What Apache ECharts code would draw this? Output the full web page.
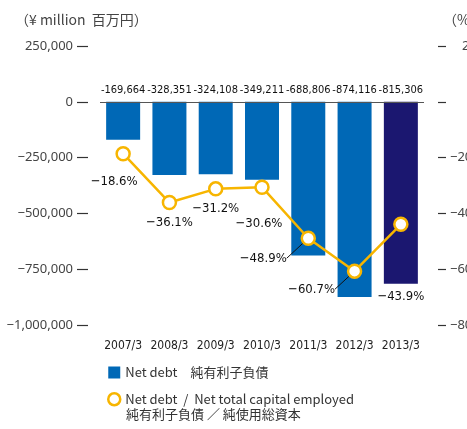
<!DOCTYPE html>
<html>
<head>
<meta charset="utf-8">
<script src="https://cdn.jsdelivr.net/npm/echarts@6/dist/echarts.min.js"></script>
<style>
  html, body { margin: 0; padding: 0; background: #fff; }
  #main { width: 467px; height: 429px; }
</style>
</head>
<body>
<div id="main"></div>
<script>
// data
var years = ['2007/3', '2008/3', '2009/3', '2010/3', '2011/3', '2012/3', '2013/3'];
var netDebt = [-169664, -328351, -324108, -349211, -688806, -874116, -815306];
var debtRatio = [-18.6, -36.1, -31.2, -30.6, -48.9, -60.7, -43.9];
var leftTicks = [-1000000, 250000, 250000]; // min, max, interval
var rightTicks = [-80, 20, 20];

var FONT = "'DejaVu Sans Condensed', 'Noto Sans CJK JP', sans-serif";
var FONT_JP = "'Noto Sans CJK JP', sans-serif";
var FONT_AX = "'Noto Sans', 'DejaVu Sans', sans-serif";
var BLUE = '#0068b6';
var NAVY = '#1b1770';
var YELLOW = '#f7b500';

// label offsets for the ratio points (dx, dy from the point), leader line on some
var ratioLabelShift = [[-9, 28], [0, 20], [0, 20], [-3, 36], [-45, 20], [-43, 18], [0, 72]];
var ratioLeader = [false, false, false, false, true, true, false];

function fmt(n) {
  return String(n).replace(/\B(?=(\d{3})+(?!\d))/g, ',');
}
function minus(s) {
  return s.replace('-', '\u2212');
}

var myChart = echarts.init(document.getElementById('main'));

var option = {
  animation: false,
  textStyle: { fontFamily: FONT },
  title: [
    {
      text: '（¥ million  百万円）',
      left: 10, top: 8,
      textStyle: { fontSize: 14, fontWeight: 'normal', color: '#444', fontFamily: FONT_JP }
    },
    {
      text: '（%）',
      left: 438, top: 8,
      textStyle: { fontSize: 14, fontWeight: 'normal', color: '#444', fontFamily: FONT_JP }
    }
  ],
  grid: { left: 100, right: 43, top: 46, bottom: 104, outerBoundsMode: 'none', containLabel: false },
  legend: {
    orient: 'vertical',
    left: 102, top: 361,
    itemWidth: 12, itemHeight: 12, itemGap: 13,
    textStyle: { fontSize: 13, color: '#333', fontFamily: FONT_JP },
    data: [
      { name: 'Net debt　純有利子負債', icon: 'rect' },
      { name: 'Net debt  /  Net total capital employed', icon: 'circle',
        itemStyle: { color: '#fff', borderColor: YELLOW, borderWidth: 2.5 } }
    ]
  },
  graphic: [
    {
      type: 'text', left: 126, top: 408,
      style: { text: '純有利子負債 ／ 純使用総資本', fontSize: 13, fill: '#333', fontFamily: FONT_JP }
    }
  ],
  xAxis: {
    type: 'category',
    data: years,
    axisLine: { show: false, onZero: false },
    axisTick: { show: false },
    axisLabel: { color: '#222', fontSize: 12, margin: 15, interval: 0 }
  },
  yAxis: [
    {
      type: 'value',
      min: leftTicks[0], max: leftTicks[1], interval: leftTicks[2],
      offset: 12,
      axisLine: { show: false },
      axisTick: { show: true, length: 11, lineStyle: { color: '#333', width: 1.2 } },
      splitLine: { show: false },
      axisLabel: {
        color: '#444', fontSize: 13, margin: 15,
        fontFamily: FONT_AX,
        formatter: function (v) { return minus(fmt(v)); }
      }
    },
    {
      type: 'value',
      min: rightTicks[0], max: rightTicks[1], interval: rightTicks[2],
      offset: 14,
      axisLine: { show: false },
      axisTick: { show: true, length: 8, lineStyle: { color: '#333', width: 1.2 } },
      splitLine: { show: false },
      axisLabel: {
        color: '#444', fontSize: 13, margin: 12,
        fontFamily: FONT_AX,
        formatter: function (v) {
          if (v === 0) return '';
          return v > 0 ? '{p|' + v + '}' : minus(String(v));
        },
        rich: { p: { padding: [0, 0, 0, 12], fontSize: 13, color: '#444', fontFamily: FONT_AX } }
      }
    }
  ],
  series: [
    {
      name: 'Net debt　純有利子負債',
      type: 'bar',
      barWidth: 34,
      itemStyle: { color: BLUE },
      data: netDebt.map(function (v, i) {
        return i === netDebt.length - 1 ? { value: v, itemStyle: { color: NAVY } } : v;
      }),
      label: {
        show: true,
        position: 'top',
        distance: 6,
        color: '#111',
        fontSize: 11,
        formatter: function (p) { return fmt(p.value); }
      },
      markLine: {
        silent: true,
        symbol: 'none',
        label: { show: false },
        lineStyle: { color: '#555', width: 1, type: 'solid' },
        data: [{ yAxis: 0 }]
      },
      z: 2
    },
    {
      name: 'Net debt  /  Net total capital employed',
      type: 'line',
      yAxisIndex: 1,
      data: debtRatio.map(function (v, i) {
        return { value: v, labelLine: { show: ratioLeader[i] } };
      }),
      symbol: 'circle',
      symbolSize: 13,
      lineStyle: { color: YELLOW, width: 2.5 },
      itemStyle: { color: '#fff', borderColor: YELLOW, borderWidth: 2.5 },
      label: {
        show: true,
        position: 'inside',
        color: '#111',
        fontSize: 13,
        formatter: function (p) { return minus(p.value.toFixed(1)) + '%'; }
      },
      labelLayout: function (p) {
        var s = ratioLabelShift[p.dataIndex];
        return { dx: s[0], dy: s[1] };
      },
      labelLine: { show: false, lineStyle: { color: '#111', width: 1 } },
      z: 5
    }
  ]
};

myChart.setOption(option, true);
</script>
</body>
</html>
